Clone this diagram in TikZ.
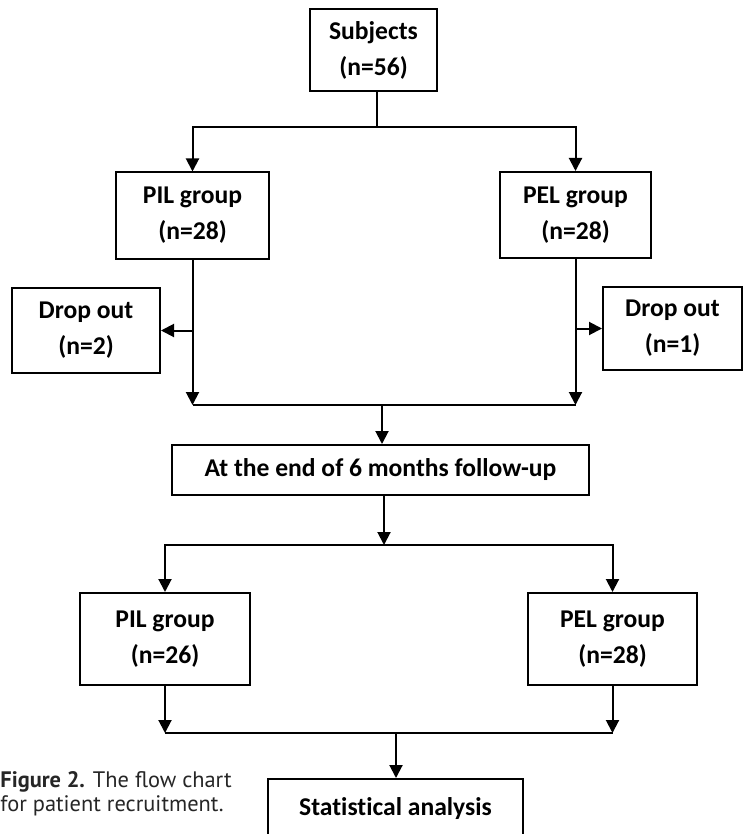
\documentclass[tikz,border=0pt]{standalone}
\usepackage{fontspec}
\setmainfont{Carlito}[Ligatures=NoCommon]
\newfontfamily\capfont{PT Sans}
\usetikzlibrary{arrows.meta,positioning}
\tikzset{
  flowbox/.style={draw, line width=1pt, inner sep=0pt, align=center,
    font=\bfseries\fontsize{12.8}{18}\selectfont},
  flowline/.style={line width=1pt},
  >={Triangle[length=6.5pt,width=6.5pt]}
}

\begin{document}
\begin{tikzpicture}[x=0.5pt,y=-0.5pt]
  \useasboundingbox (0,0) rectangle (745,834);
  \clip (0,0) rectangle (745,834);
  \node[flowbox, minimum width=63.5pt, minimum height=41pt] (subj) at (373.5,50) {Subjects\\(n=56)};
  \node[flowbox, minimum width=76.5pt, minimum height=43pt] (pil1) at (192.5,215.5) {PIL group\\(n=28)};
  \node[flowbox, minimum width=75.5pt, minimum height=43pt] (pel1) at (575.5,215) {PEL group\\(n=28)};
  \node[flowbox, minimum width=74pt, minimum height=42.5pt] (drop1) at (86,330.5) {Drop out\\(n=2)};
  \node[flowbox, minimum width=69.5pt, minimum height=41.5pt] (drop2) at (672.5,328.5) {Drop out\\(n=1)};
  \node[flowbox, minimum width=208.5pt, minimum height=25pt] (follow) at (380.5,470) {At the end of 6 months follow-up};
  \node[flowbox, minimum width=85pt, minimum height=46pt] (pil2) at (165,639) {PIL group\\(n=26)};
  \node[flowbox, minimum width=84.5pt, minimum height=46pt] (pel2) at (612.5,639) {PEL group\\(n=28)};
  \node[flowbox, minimum width=127.5pt, minimum height=30pt] (stat) at (395.5,809) {Statistical analysis};
  \node[anchor=west, align=left, inner sep=0pt, text=black!85,
        font=\capfont\fontsize{11.2}{11.8}\selectfont] (cap) at (0,794)
        {\textbf{Figure 2.} The flow chart\\for patient recruitment.};

  \coordinate (j1) at (377,127);
  \coordinate (m1) at (382,405);
  \coordinate (j2) at (384,545);
  \coordinate (m2) at (396,733);

  \draw[flowline] (j1 |- subj.south) -- (j1);
  \draw[flowline,->] (j1) -| (pil1);
  \draw[flowline,->] (j1) -| (pel1);
  \draw[flowline,->] (pil1 |- drop1) -- (drop1);
  \draw[flowline,->] (pel1 |- drop2) -- (drop2);
  \draw[flowline,->] (pil1) -- (pil1 |- m1);
  \draw[flowline,->] (pel1) -- (pel1 |- m1);
  \draw[flowline] (pil1 |- m1) -- (pel1 |- m1);
  \draw[flowline,->] (m1) -- (m1 |- follow.north);
  \draw[flowline,->] (j2 |- follow.south) -- (j2);
  \draw[flowline,->] (j2) -| (pil2);
  \draw[flowline,->] (j2) -| (pel2);
  \draw[flowline,->] (pil2) -- (pil2 |- m2);
  \draw[flowline,->] (pel2) -- (pel2 |- m2);
  \draw[flowline] (pil2 |- m2) -- (pel2 |- m2);
  \draw[flowline,->] (m2) -- (m2 |- stat.north);
\end{tikzpicture}
\end{document}
